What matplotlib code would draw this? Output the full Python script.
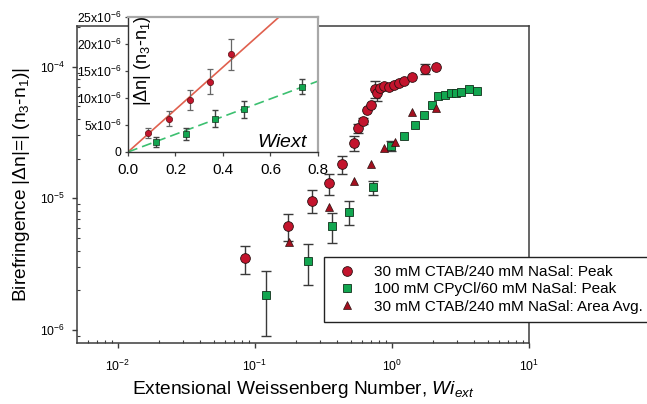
import numpy as np
import matplotlib
matplotlib.use("Agg")
import matplotlib.pyplot as plt
from matplotlib.ticker import LogLocator, LogFormatterSciNotation, NullFormatter, FixedLocator, FixedFormatter

plt.rcParams['font.family'] = ['Liberation Sans', 'DejaVu Sans']
plt.rcParams['mathtext.fontset'] = 'custom'
plt.rcParams['mathtext.rm'] = 'Liberation Sans'
plt.rcParams['mathtext.it'] = 'Liberation Sans:italic'
plt.rcParams['mathtext.bf'] = 'Liberation Sans:bold'

# ---------------- data ----------------
# 30 mM CTAB / 240 mM NaSal : Peak
ctab_x = [0.085, 0.174, 0.261, 0.346, 0.435, 0.528, 0.568, 0.611, 0.653, 0.703, 0.752, 0.78,
          0.817, 0.875, 0.955, 1.04, 1.13, 1.23, 1.41, 1.75, 2.09]
ctab_y = [3.5e-6, 6.15e-6, 9.6e-6, 1.30e-5, 1.81e-5, 2.62e-5, 3.40e-5, 3.88e-5, 4.68e-5, 5.11e-5,
          6.73e-5, 6.3e-5, 6.84e-5, 7.12e-5, 7.03e-5, 7.24e-5, 7.46e-5, 7.81e-5, 8.38e-5, 9.59e-5, 9.98e-5]
ctab_err = [0.85e-6, 1.4e-6, 1.9e-6, 2.35e-6, 2.9e-6, 3.5e-6, 2.5e-6, 2.0e-6, 0, 0,
            1.0e-5, 0.8e-5, 0, 0, 0, 0, 0, 0, 0, 0.8e-5, 0]

# 100 mM CPyCl / 60 mM NaSal : Peak
cpycl_x = [0.12, 0.244, 0.365, 0.488, 0.731, 0.98, 1.23, 1.47, 1.71, 1.95, 2.18, 2.44, 2.68,
           2.92, 3.17, 3.66, 4.15]
cpycl_y = [1.85e-6, 3.35e-6, 6.15e-6, 7.9e-6, 1.21e-5, 2.50e-5, 2.97e-5, 3.60e-5, 4.29e-5,
           5.11e-5, 6.01e-5, 6.08e-5, 6.27e-5, 6.27e-5, 6.45e-5, 6.73e-5, 6.56e-5]
cpycl_err = [0.95e-6, 1.15e-6, 1.6e-6, 1.6e-6, 1.45e-6, 2.0e-6, 0, 0, 0, 0, 0, 0, 0, 0, 0, 0, 0]

# 30 mM CTAB / 240 mM NaSal : Area Avg.
area_x = [0.176, 0.345, 0.528, 0.70, 0.875, 1.05, 1.39, 2.09]
area_y = [4.68e-6, 8.55e-6, 1.35e-5, 1.81e-5, 2.40e-5, 2.69e-5, 4.55e-5, 4.82e-5]

labels = ["30 mM CTAB/240 mM NaSal: Peak",
          "100 mM CPyCl/60 mM NaSal: Peak",
          "30 mM CTAB/240 mM NaSal: Area Avg."]

# inset: first (linear-regime) points of both peak series and linear fits
n_inset = 5
ctab_slope = 39.3e-6
cpycl_slope = 16.4e-6
inset_xticks = [0.0, 0.2, 0.4, 0.6, 0.8]
inset_yticks = [0, 5e-6, 10e-6, 15e-6, 20e-6, 25e-6]
inset_ytick_labels = ['0', r'$5\mathrm{x}10^{-6}$', r'$10\mathrm{x}10^{-6}$', r'$15\mathrm{x}10^{-6}$',
                      r'$20\mathrm{x}10^{-6}$', r'$25\mathrm{x}10^{-6}$']

RED = '#c3142d'
RED_DARK = '#a3101f'
GREEN = '#12a650'
EDGE = '#2a1010'

# ---------------- figure ----------------
fig = plt.figure(figsize=(6.47, 4.04), dpi=100)
ax = fig.add_axes([0.1190, 0.1522, 0.6986, 0.7834])
ax.set_xscale('log')
ax.set_yscale('log')
ax.set_xlim(5.02e-3, 10)
ax.set_ylim(8.04e-7, 2.03e-4)


def draw_err(a, x, y, e, color, capsize, lw, z=2):
    x = np.asarray(x); y = np.asarray(y); e = np.asarray(e)
    m = e > 0
    a.errorbar(x[m], y[m], yerr=e[m], fmt='none', ecolor=color, elinewidth=lw,
               capsize=capsize, capthick=lw, zorder=z)


draw_err(ax, ctab_x, ctab_y, ctab_err, '#3a3a3a', 3.3, 1.0)
draw_err(ax, cpycl_x, cpycl_y, cpycl_err, '#3a3a3a', 3.3, 1.0)

ax.plot(ctab_x, ctab_y, 'o', ms=7, mfc=RED, mec=EDGE, mew=0.6, ls='none', zorder=4, label=labels[0])
ax.plot(cpycl_x, cpycl_y, 's', ms=5.4, mfc=GREEN, mec='#10301a', mew=0.6, ls='none', zorder=3, label=labels[1])
ax.plot(area_x, area_y, '^', ms=5.5, mfc=RED_DARK, mec=EDGE, mew=0.5, ls='none', zorder=5, label=labels[2])

for s in ax.spines.values():
    s.set_color('#3c3c3c')
    s.set_linewidth(1.1)

ax.xaxis.set_major_locator(LogLocator(base=10, numticks=10))
ax.xaxis.set_minor_locator(LogLocator(base=10, subs=np.arange(2, 10), numticks=20))
ax.yaxis.set_major_locator(LogLocator(base=10, numticks=10))
ax.yaxis.set_minor_locator(LogLocator(base=10, subs=np.arange(2, 10), numticks=20))
ax.xaxis.set_major_formatter(LogFormatterSciNotation())
ax.yaxis.set_major_formatter(LogFormatterSciNotation())
ax.xaxis.set_minor_formatter(NullFormatter())
ax.yaxis.set_minor_formatter(NullFormatter())
ax.tick_params(which='major', direction='out', length=3.5, width=1.0, color='#3c3c3c',
               labelsize=8.8, pad=5)
ax.tick_params(axis='x', which='major', pad=8)
ax.tick_params(which='minor', direction='in', length=2.3, width=0.8, color='#3c3c3c')
ax.tick_params(top=False, right=False, which='both')

ax.set_xlabel("Extensional Weissenberg Number, " + r"$\mathit{Wi}_{\mathit{ext}}$", fontsize=13.8, labelpad=4)
ax.set_ylabel("Birefringence |Δn|=| (n$_3$-n$_1$)|", fontsize=13.8, labelpad=6)

leg = ax.legend(loc='upper left', bbox_to_anchor=(324 / 647, 1 - 257 / 404),
                bbox_transform=fig.transFigure, borderaxespad=0, fontsize=11,
                frameon=True, fancybox=False, framealpha=1, edgecolor='#222222',
                borderpad=0.55, handlelength=1.9, handletextpad=0.8, labelspacing=0.2)
leg.get_frame().set_linewidth(1.0)

# ---------------- inset ----------------
axi = fig.add_axes([0.1978, 0.6238, 0.2937, 0.3342], zorder=10)
axi.set_facecolor('white')
axi.set_xlim(0, 0.8)
axi.set_ylim(0, 25e-6)

xl = np.array(axi.get_xlim())
axi.plot(xl, ctab_slope * xl, '-', color='#e0604e', lw=1.2, zorder=2)
axi.plot(xl, cpycl_slope * xl, '--', color='#3cc070', lw=1.2, dashes=(6, 3), zorder=2)

draw_err(axi, ctab_x[:n_inset], ctab_y[:n_inset], ctab_err[:n_inset], '#666666', 2.5, 0.9, z=3)
draw_err(axi, cpycl_x[:n_inset], cpycl_y[:n_inset], cpycl_err[:n_inset], '#444444', 2.5, 1.0, z=3)
axi.plot(ctab_x[:n_inset], ctab_y[:n_inset], 'o', ms=4.5, mfc=RED, mec='#5a1010', mew=0.5, ls='none', zorder=4)
axi.plot(cpycl_x[:n_inset], cpycl_y[:n_inset], 's', ms=4.0, mfc=GREEN, mec='#10301a', mew=0.5, ls='none', zorder=4)

axi.xaxis.set_major_locator(FixedLocator(inset_xticks))
axi.set_xticklabels([f"{v:.1f}" for v in inset_xticks])
axi.yaxis.set_major_locator(FixedLocator(inset_yticks))
axi.yaxis.set_major_formatter(FixedFormatter(inset_ytick_labels))
axi.tick_params(axis='x', direction='out', length=3, width=0.9, labelsize=11, pad=5, color='#444444')
axi.tick_params(axis='y', direction='out', length=2.5, width=0.9, labelsize=8.8, pad=2, color='#444444')

axi.spines['left'].set_color('#333333')
axi.spines['bottom'].set_color('#333333')
axi.spines['left'].set_linewidth(1.0)
axi.spines['bottom'].set_linewidth(1.0)
axi.spines['top'].set_color('#a8a8a8')
axi.spines['right'].set_color('#a8a8a8')
axi.spines['top'].set_linewidth(1.6)
axi.spines['right'].set_linewidth(1.6)

axi.text(0.079, 0.68, "|Δn| (n$_3$-n$_1$)", transform=axi.transAxes, rotation=90,
         ha='center', va='center', fontsize=13)
axi.text(0.68, 0.04, r"$\mathit{Wi}$" + r"$\mathit{ext}$", transform=axi.transAxes,
         ha='left', va='baseline', fontsize=14)

fig.savefig("out.png", dpi=100)
